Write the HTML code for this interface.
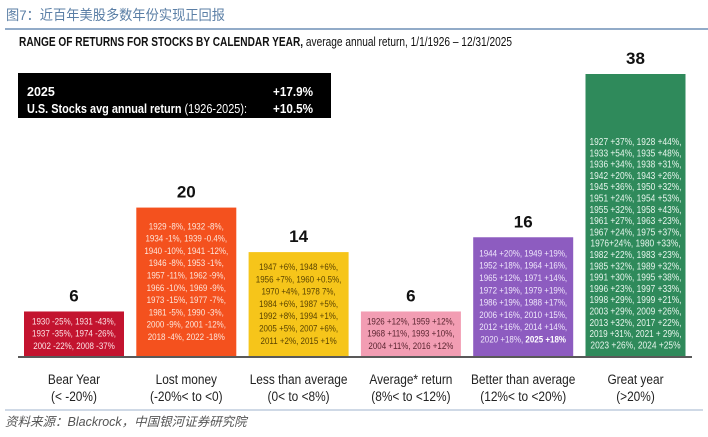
<!DOCTYPE html>
<html><head><meta charset="utf-8">
<style>
html,body{margin:0;padding:0;background:#fff;}
body{width:708px;height:432px;overflow:hidden;position:relative;font-family:"Liberation Sans",sans-serif;}
svg text{font-family:"Liberation Sans",sans-serif;}
</style></head>
<body>
<svg id="chart" width="708" height="432" xmlns="http://www.w3.org/2000/svg">
  <text x="6" y="20" font-size="14" fill="#5b7fa6" textLength="219" lengthAdjust="spacingAndGlyphs" font-family="'Liberation Sans','Noto Sans CJK SC',sans-serif">图7：近百年美股多数年份实现正回报</text>
  <line x1="5" y1="29" x2="708" y2="29" stroke="#6f8fb5" stroke-width="1.5"/>
  <text x="19" y="46" font-size="12.5" fill="#111" textLength="493" lengthAdjust="spacingAndGlyphs"><tspan font-weight="bold">RANGE OF RETURNS FOR STOCKS BY CALENDAR YEAR,</tspan> average annual return, 1/1/1926 – 12/31/2025</text>
  <g>
    <rect x="18" y="73" width="313" height="45" fill="#000"/>
    <text x="27" y="96" font-size="12.5" font-weight="bold" fill="#fff">2025</text>
    <text x="313" y="96" font-size="12.5" font-weight="bold" fill="#fff" text-anchor="end" textLength="40" lengthAdjust="spacingAndGlyphs">+17.9%</text>
    <text x="27" y="113" font-size="12.5" fill="#fff" textLength="220" lengthAdjust="spacingAndGlyphs"><tspan font-weight="bold">U.S. Stocks avg annual return</tspan> (1926-2025):</text>
    <text x="313" y="113" font-size="12.5" font-weight="bold" fill="#fff" text-anchor="end" textLength="40" lengthAdjust="spacingAndGlyphs">+10.5%</text>
  </g>
  <g id="bars"></g>
  <line x1="18" y1="357" x2="692" y2="357" stroke="#222" stroke-width="1.5"/>
  <line x1="5" y1="410" x2="703" y2="410" stroke="#9fb3cc" stroke-width="1"/>
  <text x="5" y="426" font-size="12.5" font-style="italic" fill="#555" font-family="'Liberation Serif','Noto Serif CJK SC',serif">资料来源：Blackrock，中国银河证券研究院</text>
</svg>
<script>
const categories = ["Bear Year","Lost money","Less than average","Average* return","Better than average","Great year"];
const ranges = ["(< -20%)","(-20%< to <0)","(0< to <8%)","(8%< to <12%)","(12%< to <20%)","(>20%)"];
const counts = [6,20,14,6,16,38];
const colors = ["#c3142f","#f4511e","#f6c51a","#f29db3","#8d5cc0","#2f8a5b"];
const textColors = ["#fde3e6","#fde5da","#5a4300","#5a2530","#efe6fb","#e6f5ec"];
const yearLines = [
 ["1930 -25%, 1931 -43%,","1937 -35%, 1974 -26%,","2002 -22%, 2008 -37%"],
 ["1929 -8%, 1932 -8%,","1934 -1%, 1939 -0.4%,","1940 -10%, 1941 -12%,","1946 -8%, 1953 -1%,","1957 -11%, 1962 -9%,","1966 -10%, 1969 -9%,","1973 -15%, 1977 -7%,","1981 -5%, 1990 -3%,","2000 -9%, 2001 -12%,","2018 -4%, 2022 -18%"],
 ["1947 +6%, 1948 +6%,","1956 +7%, 1960 +0.5%,","1970 +4%, 1978 7%,","1984 +6%, 1987 +5%,","1992 +8%, 1994 +1%,","2005 +5%, 2007 +6%,","2011 +2%, 2015 +1%"],
 ["1926 +12%, 1959 +12%,","1968 +11%, 1993 +10%,","2004 +11%, 2016 +12%"],
 ["1944 +20%, 1949 +19%,","1952 +18%, 1964 +16%,","1965 +12%, 1971 +14%,","1972 +19%, 1979 +19%,","1986 +19%, 1988 +17%,","2006 +16%, 2010 +15%,","2012 +16%, 2014 +14%,","2020 +18%, |2025 +18%"],
 ["1927 +37%, 1928 +44%,","1933 +54%, 1935 +48%,","1936 +34%, 1938 +31%,","1942 +20%, 1943 +26%,","1945 +36%, 1950 +32%,","1951 +24%, 1954 +53%,","1955 +32%, 1958 +43%,","1961 +27%, 1963 +23%,","1967 +24%, 1975 +37%,","1976+24%, 1980 +33%,","1982 +22%, 1983 +23%,","1985 +32%, 1989 +32%,","1991 +30%, 1995 +38%,","1996 +23%, 1997 +33%,","1998 +29%, 1999 +21%,","2003 +29%, 2009 +26%,","2013 +32%, 2017 +22%,","2019 +31%, 2021 + 29%,","2023 +26%, 2024 +25%"]
];
const NS="http://www.w3.org/2000/svg";
const base=356, pxPer=282/38, x0=24, step=112.3, bw=100;
const xPos=i=>x0+i*step;
const yPos=v=>base-v*pxPer;
const g=document.getElementById('bars');
function mk(tag,attrs){const e=document.createElementNS(NS,tag);for(const k in attrs)e.setAttribute(k,attrs[k]);return e;}
function squeeze(t,maxW,ratio){
  const w=t.getComputedTextLength();
  const target=Math.min(maxW,w*ratio);
  t.setAttribute('textLength',target.toFixed(1));
  t.setAttribute('lengthAdjust','spacingAndGlyphs');
}
categories.forEach((c,i)=>{
  const x=xPos(i), top=yPos(counts[i]), cx=x+bw/2;
  const r=mk('rect',{x:x,y:top,width:bw,height:base-top,fill:colors[i]});
  
  
  g.appendChild(r);
  const v=mk('text',{x:cx,y:top-10,'font-size':17,'font-weight':'bold','text-anchor':'middle',fill:'#111'});
  v.textContent=counts[i];
  
  
  g.appendChild(v);
  const lines=yearLines[i];
  const lh = i===5 ? 11.3 : 12.3;
  const fs = i===5 ? 10 : 9.5;
  const startY = i===5 ? top+71 : top+(base-top-lines.length*lh)/2+9;
  lines.forEach((ln,j)=>{
    const t=mk('text',{x:cx,y:startY+j*lh,'font-size':fs,'text-anchor':'middle',fill:textColors[i]});
    if(ln.includes('|')){
      const [a,b]=ln.split('|');
      const s1=mk('tspan',{});s1.textContent=a;t.appendChild(s1);
      const s2=mk('tspan',{'font-weight':'bold',fill:'#fff'});s2.textContent=b;t.appendChild(s2);
    } else t.textContent=ln;
    
    
    g.appendChild(t);
    squeeze(t,92,0.84);
  });
  const l1=mk('text',{x:cx,y:384,'font-size':13.5,'text-anchor':'middle',fill:'#222'});
  l1.textContent=c;
  
  
  g.appendChild(l1);
  squeeze(l1,106,0.88);
  const l2=mk('text',{x:cx,y:401,'font-size':13.5,'text-anchor':'middle',fill:'#222'});
  l2.textContent=ranges[i];
  
  
  g.appendChild(l2);
  squeeze(l2,106,0.88);
});
</script>
</body></html>
